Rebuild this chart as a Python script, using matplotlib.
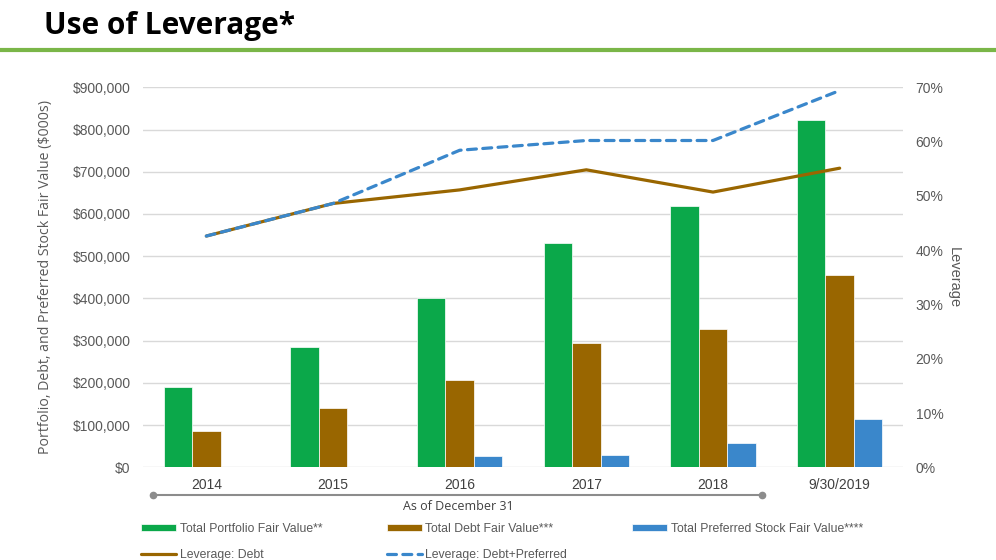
import numpy as np
import matplotlib
matplotlib.use("Agg")
import matplotlib.pyplot as plt
from matplotlib.lines import Line2D

# values
periods = ["2014", "2015", "2016", "2017", "2018", "9/30/2019"]
portfolio_fv = [191000, 284000, 400000, 531000, 618000, 823000]
debt_fv = [85000, 140000, 206000, 295000, 328000, 456000]
preferred_fv = [0, 0, 27000, 29000, 58000, 114000]
lev_debt = [0.426, 0.486, 0.511, 0.548, 0.507, 0.551]
lev_debt_pref = [0.426, 0.486, 0.584, 0.602, 0.602, 0.694]

left_ticks = [0, 100000, 200000, 300000, 400000, 500000, 600000, 700000, 800000, 900000]
right_ticks = [0, 0.1, 0.2, 0.3, 0.4, 0.5, 0.6, 0.7]

green = "#0BA84A"
brown = "#996600"
blue = "#3A87CB"
grey_txt = "#595959"

fig = plt.figure(figsize=(9.96, 5.6), dpi=100)

# title and green rule
fig.text(44 / 996, 1 - 26 / 560, "Use of Leverage*", fontsize=21.5, fontweight="bold",
         family="Open Sans", va="center", ha="left", color="black")
fig.add_artist(Line2D([0, 1], [1 - 50 / 560, 1 - 50 / 560], color="#7AB648", lw=3,
                      transform=fig.transFigure))

ax = fig.add_axes([143 / 996, 1 - 467.3 / 560, 760 / 996, 380 / 560])
x = np.arange(len(periods))
w = 0.225
ax.bar(x - w, portfolio_fv, w, color=green, edgecolor="white", linewidth=0.5,
       label="Total Portfolio Fair Value**", zorder=3)
ax.bar(x, debt_fv, w, color=brown, edgecolor="white", linewidth=0.5,
       label="Total Debt Fair Value***", zorder=3)
ax.bar(x + w, preferred_fv, w, color=blue, edgecolor="white", linewidth=0.5,
       label="Total Preferred Stock Fair Value****", zorder=3)

ax.set_xlim(-0.5, len(periods) - 0.5)
ax.set_ylim(0, 900000)
ax.set_yticks(left_ticks)
ax.set_yticklabels(["${:,.0f}".format(v) for v in left_ticks])
ax.set_xticks(x)
ax.set_xticklabels(periods)
ax.grid(axis="y", color="#D9D9D9", linewidth=1, zorder=0)
ax.set_axisbelow(True)
for s in ax.spines.values():
    s.set_visible(False)
ax.tick_params(length=0, labelsize=10, colors=grey_txt, pad=9)
ax.tick_params(axis="x", colors="#404040", pad=8)
for lbl in ax.get_xticklabels() + ax.get_yticklabels():
    lbl.set_family("Liberation Sans")
ax.set_ylabel("Portfolio, Debt, and Preferred Stock Fair Value ($000s)",
              family="Open Sans", fontsize=10.2, color=grey_txt, labelpad=14)

ax2 = ax.twinx()
ax2.plot(x, lev_debt, color=brown, lw=2.3, solid_capstyle="round",
         label="Leverage: Debt", zorder=4)
ax2.plot(x, lev_debt_pref, color=blue, lw=2.3, dashes=(2.8, 2.0),
         dash_capstyle="round", label="Leverage: Debt+Preferred", zorder=5)
ax2.set_ylim(0, 0.7)
ax2.set_yticks(right_ticks)
ax2.set_yticklabels(["{:.0f}%".format(v * 100) for v in right_ticks])
for s in ax2.spines.values():
    s.set_visible(False)
ax2.tick_params(length=0, labelsize=10, colors=grey_txt, pad=9)
for lbl in ax2.get_yticklabels():
    lbl.set_family("Liberation Sans")
ax2.set_ylabel("Leverage", family="Liberation Sans", fontsize=10.5, color=grey_txt,
               rotation=-90, labelpad=2, va="bottom")

# "As of December 31" bracket under 2014-2018
yb = 1 - 495 / 560
fig.add_artist(Line2D([153 / 996, 762 / 996], [yb, yb], color="#8C8C8C", lw=1.5,
                      marker="o", markersize=4.5, markevery=[0, 1],
                      transform=fig.transFigure))
fig.text(458 / 996, 1 - 507 / 560, "As of December 31", family="Open Sans",
         fontsize=9, color="#404040", ha="center", va="center")

# legend
h1, l1 = ax.get_legend_handles_labels()
h2, l2 = ax2.get_legend_handles_labels()
handles = [h1[0], h2[0], h1[1], h2[1], h1[2]]
labels = [l1[0], l2[0], l1[1], l2[1], l1[2]]
leg = fig.legend(handles, labels, ncol=3, loc="upper left",
                 bbox_to_anchor=(130 / 996, 1 - 512 / 560), frameon=False,
                 prop={"family": "Liberation Sans", "size": 8.8},
                 handlelength=2.85, handleheight=0.5, handletextpad=0.3,
                 columnspacing=5.3, labelspacing=1.12)
for t in leg.get_texts():
    t.set_color(grey_txt)

fig.savefig("out.png", dpi=100)
